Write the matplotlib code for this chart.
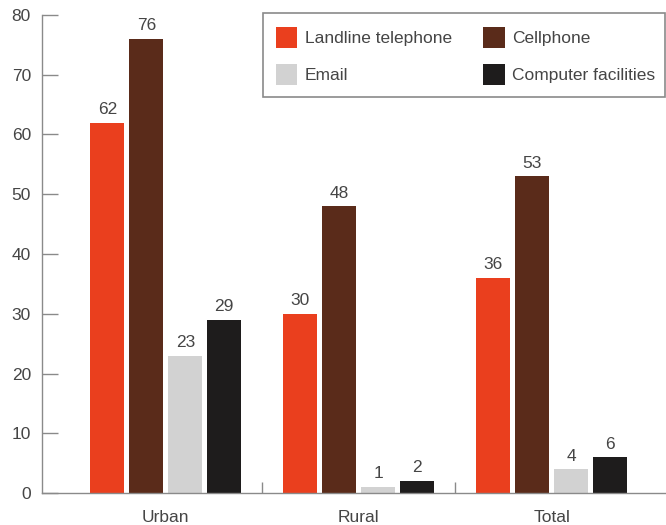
import matplotlib
matplotlib.use("Agg")
import matplotlib.pyplot as plt
from matplotlib.patches import Rectangle
import numpy as np

# Data
categories = ["Urban", "Rural", "Total"]
series_names = ["Landline telephone", "Cellphone", "Email", "Computer facilities"]
landline = [62, 30, 36]
cellphone = [76, 48, 53]
email = [23, 1, 4]
computer = [29, 2, 6]
y_ticks = [0, 10, 20, 30, 40, 50, 60, 70, 80]

series_values = [landline, cellphone, email, computer]
colors = ["#EA3F1E", "#5A2B1A", "#D2D2D2", "#1E1C1C"]

plt.rcParams["font.family"] = ["Liberation Sans", "DejaVu Sans"]
text_color = "#454545"
axis_color = "#8a8a8a"
fs = 12.5

W, H = 666, 525
fig = plt.figure(figsize=(W / 100, H / 100), dpi=100)
ax = fig.add_axes([42 / W, 1 - 493 / H, (W - 42) / W, (493 - 15) / H])

x = np.arange(len(categories))
pitch = 0.202
width = 0.176
offsets = (np.arange(4) - 1.5) * pitch

handles = []
for vals, off, col, name in zip(series_values, offsets, colors, series_names):
    bars = ax.bar(x + off, vals, width=width, color=col, label=name, zorder=2)
    handles.append(bars)
    for xi, v in zip(x + off, vals):
        ax.annotate(str(v), (xi, v), xytext=(0, 4), textcoords="offset points",
                    ha="center", va="bottom", fontsize=fs, color=text_color)

ax.set_xlim(-0.642, 2.593)
ax.set_ylim(0, 80)
ax.set_yticks(y_ticks)
ax.tick_params(axis="y", direction="in", length=11.5, width=1.0, color=axis_color,
               labelsize=fs, labelcolor=text_color, pad=8)

# Category labels centred under each group, separator ticks between groups
ax.set_xticks(x)
ax.set_xticklabels(categories)
ax.tick_params(axis="x", which="major", length=0, labelsize=fs,
               labelcolor=text_color, pad=12)
ax.set_xticks([0.5, 1.5], minor=True)
ax.tick_params(axis="x", which="minor", direction="in", length=8, width=1.0,
               color=axis_color)

for side in ["top", "right"]:
    ax.spines[side].set_visible(False)
for side in ["left", "bottom"]:
    ax.spines[side].set_color(axis_color)
    ax.spines[side].set_linewidth(1.0)

# Legend box
box = Rectangle((263 / W, 1 - 97 / H), (665 - 263) / W, (97 - 13) / H,
                transform=fig.transFigure, facecolor="white",
                edgecolor="#8a8a8a", linewidth=1.2, zorder=4)
fig.add_artist(box)

# Legend entries: two columns, rows = (Landline, Cellphone), (Email, Computer)
order = [0, 2, 1, 3]
leg = fig.legend([handles[i] for i in order], [series_names[i] for i in order],
                 ncol=2, loc="upper left",
                 bbox_to_anchor=(276 / W, 1 - 27 / H),
                 frameon=False, fontsize=fs,
                 handlelength=1.22, handleheight=1.52, handletextpad=0.45,
                 columnspacing=1.8, borderpad=0, labelspacing=0.9,
                 borderaxespad=0)
leg.set_zorder(5)
for t in leg.get_texts():
    t.set_color(text_color)

fig.savefig("out.png", dpi=100)
